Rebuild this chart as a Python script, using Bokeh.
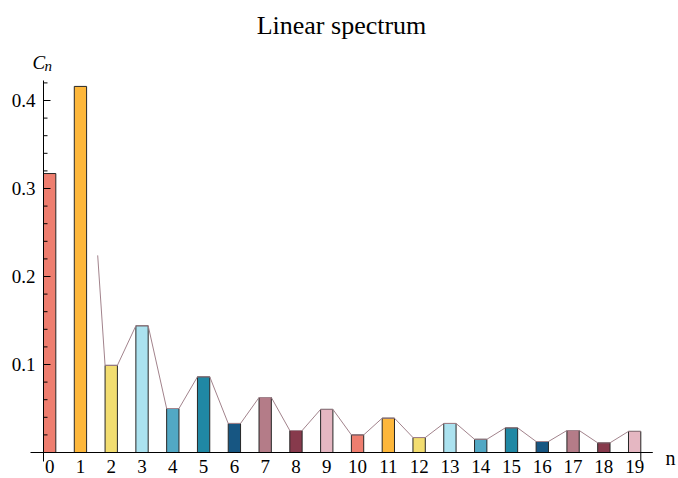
from bokeh.plotting import figure
from bokeh.models import Range1d, Label, ColumnDataSource
from bokeh.core.properties import value
from bokeh.embed import file_html
from bokeh.resources import INLINE

# ---- data ----
n_values = list(range(20))
cn_values = [0.317, 0.416, 0.099, 0.144, 0.050, 0.086, 0.033, 0.0625, 0.025, 0.049,
             0.020, 0.039, 0.017, 0.033, 0.015, 0.028, 0.0125, 0.025, 0.011, 0.024]
bar_colors = ["#EE7E6F", "#FDB73B", "#F2DD70", "#ABE2EF", "#52A8C4",
              "#2088A4", "#175682", "#B47C88", "#873A4C", "#E5B7C2"] * 2
envelope_start_x = [1.56]
envelope_start_y = [0.224]
y_tick_values = [0.1, 0.2, 0.3, 0.4]
y_tick_labels = ["0.1", "0.2", "0.3", "0.4"]
y_minor_values = [round(0.02 * k, 2) for k in range(1, 22) if k % 5 != 0]
x_tick_labels = [str(n) for n in n_values]
title_text = "Linear spectrum"

# ---- layout constants (pixels) ----
W, H = 678, 478
PX_X = 30.789          # pixels per unit n
PX_Y = 880.0           # pixels per unit C_n
X0_PAGE = 43           # page x of n = -0.2
Y0_PAGE = 452          # page y of C_n = 0
BAR_W = 0.4
FONT = "Liberation Serif"

x_left = -0.2 - X0_PAGE / PX_X
x_right = -0.2 + (W - X0_PAGE) / PX_X
y_bottom = -(H - Y0_PAGE) / PX_Y
y_top = Y0_PAGE / PX_Y

p = figure(width=W, height=H, output_backend="svg", toolbar_location=None,
           x_range=Range1d(x_left, x_right), y_range=Range1d(y_bottom, y_top),
           x_axis_location=None, y_axis_location=None,
           min_border=0, min_border_left=0, min_border_right=0,
           min_border_top=0, min_border_bottom=0)
p.outline_line_color = None
p.grid.visible = False
p.background_fill_color = "white"

def px_x(px):
    return px / PX_X

def px_y(px):
    return px / PX_Y

# bars
src = ColumnDataSource(dict(x=n_values, top=cn_values, color=bar_colors))
p.vbar(x="x", top="top", width=BAR_W, bottom=0, fill_color="color",
       line_color="#262626", line_width=1, source=src)

# envelope line along bar tops
ex = list(envelope_start_x)
ey = list(envelope_start_y)
for n, v in zip(n_values[2:], cn_values[2:]):
    ex += [n - BAR_W / 2, n + BAR_W / 2]
    ey += [v, v]
p.line(ex, ey, line_color="#A2838C", line_width=1)

axis_x = -BAR_W / 2
# x axis line
p.segment(x0=[axis_x - px_x(13)], y0=[0], x1=[n_values[-1] + BAR_W / 2 + px_x(12)], y1=[0],
          line_color="black", line_width=1)
# y axis line
p.segment(x0=[axis_x], y0=[-px_y(9)], x1=[axis_x], y1=[px_y(Y0_PAGE - 80)],
          line_color="black", line_width=1)
# small tick at the end of the x axis
p.segment(x0=[n_values[-1] + BAR_W / 2], y0=[-px_y(8)], x1=[n_values[-1] + BAR_W / 2], y1=[0],
          line_color="black", line_width=1)
# y major / minor ticks
p.segment(x0=[axis_x] * len(y_tick_values), y0=y_tick_values,
          x1=[axis_x + px_x(7)] * len(y_tick_values), y1=y_tick_values,
          line_color="black", line_width=1)
p.segment(x0=[axis_x] * len(y_minor_values), y0=y_minor_values,
          x1=[axis_x + px_x(4)] * len(y_minor_values), y1=y_minor_values,
          line_color="black", line_width=1)
# y tick labels
p.text(x=[axis_x - px_x(8)] * len(y_tick_values), y=y_tick_values, text=y_tick_labels,
       text_font=value(FONT), text_font_size="19px", text_align="right",
       text_baseline="middle", text_color="black")
# x tick labels
p.text(x=n_values, y=[-px_y(7)] * len(n_values), text=x_tick_labels,
       text_font=value(FONT), text_font_size="19px", text_align="center",
       text_baseline="top", text_color="black")

# title and axis labels (screen units: from bottom-left of the canvas)
p.add_layout(Label(x=341, y=H - 25, x_units="screen", y_units="screen", text=title_text,
                   text_font=FONT, text_font_size="26px", text_align="center",
                   text_baseline="middle", text_color="black"))
p.add_layout(Label(x=32, y=H - 62, x_units="screen", y_units="screen", text="C",
                   text_font=FONT, text_font_style="italic", text_font_size="19px",
                   text_baseline="alphabetic", text_color="black"))
p.add_layout(Label(x=44, y=H - 65, x_units="screen", y_units="screen", text="n",
                   text_font=FONT, text_font_style="italic", text_font_size="15px",
                   text_baseline="alphabetic", text_color="black"))
p.add_layout(Label(x=665, y=H - 457, x_units="screen", y_units="screen", text="n",
                   text_font=FONT, text_font_size="20px",
                   text_baseline="alphabetic", text_color="black"))

open("out.html", "w").write(file_html(p, INLINE))
